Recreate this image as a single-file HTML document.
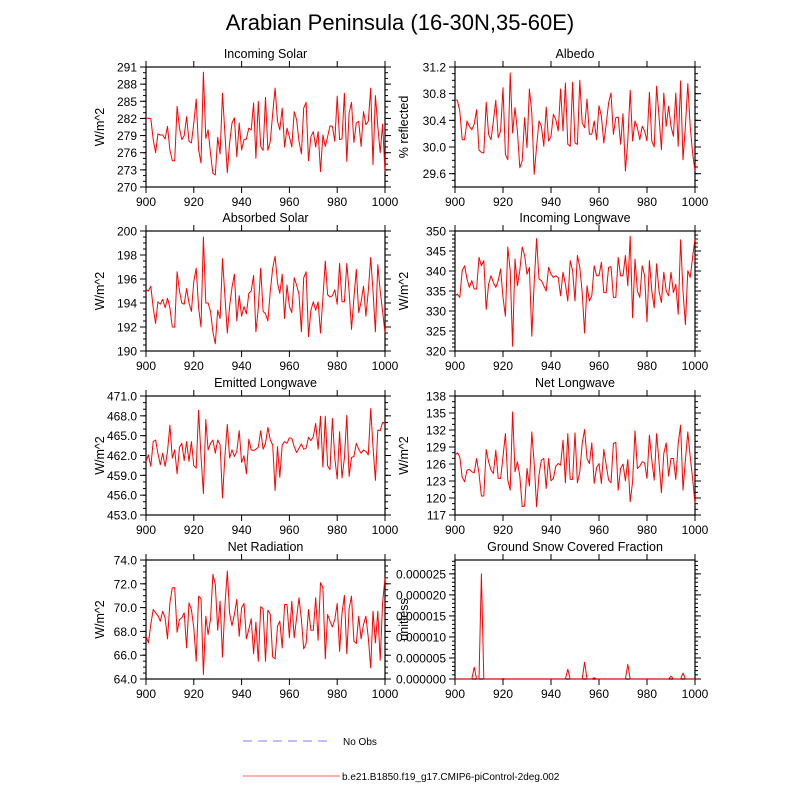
<!DOCTYPE html>
<html><head><meta charset="utf-8"><style>
body{margin:0;background:#fff}
svg{display:block;font-family:"Liberation Sans",sans-serif}
</style></head><body>
<svg id="chart" width="800" height="800" viewBox="0 0 800 800">
<text x="400" y="30" font-size="22" text-anchor="middle">Arabian Peninsula (16-30N,35-60E)</text>
<g>
<line x1="243" y1="741" x2="330" y2="741" stroke="#9999ff" stroke-width="1.2" stroke-dasharray="9,6"/>
<text x="343" y="745" font-size="10">No Obs</text>
<line x1="243" y1="776" x2="340" y2="776" stroke="#ff8080" stroke-width="1.2"/>
<text x="342" y="780" font-size="10">b.e21.B1850.f19_g17.CMIP6-piControl-2deg.002</text>
</g>
</svg>
<script>
const years0 = 900;
const incomingSolar = [282.1,282,282,278.3,276,279.3,279.1,279.1,278.4,280.6,276.5,274.6,274.6,284.1,280.3,278.3,279,282.3,278,277.7,281.2,285.4,276.5,274.2,290.1,278.5,280,275.9,272.4,272.1,278.7,275.8,286.4,279.4,272.5,277.7,281.2,282.1,275.3,281.2,276.5,278.3,278.4,280.3,280,284.7,275,285,277.1,276.4,285.7,276.4,278,282.9,287.3,281.5,280,283.8,277,280.3,278.8,277,283.2,281.8,278,275.8,283.8,284.8,274.6,278.8,279.7,277,279.7,272.7,279.1,277.1,278.8,280.7,280.6,278,285.9,278.3,278.4,286.4,274.5,282.9,284.8,277.8,281.2,281.5,277.1,283.2,280.9,281.5,287.3,273.9,286,280.6,276,281,272.7];
const albedo = [30.71,30.70,30.54,30.11,30.11,30.39,30.31,30.26,30.34,30.56,29.95,29.92,29.91,30.67,30.19,30.11,30.39,30.70,30.14,30.24,30.89,29.89,29.81,31.11,30.21,30.59,30.24,29.69,29.79,30.44,29.99,30.87,30.51,29.59,30.01,30.39,30.31,30.01,30.60,30.09,30.16,30.49,30.41,30.24,30.87,30.24,30.96,30.04,30.01,30.97,30.06,30.04,31.0,30.36,30.29,30.72,30.19,30.19,30.39,30.11,30.62,30.46,30.06,30.34,30.66,30.81,30.19,30.44,30.45,30.04,30.5,29.64,30.09,30.85,30.09,30.39,30.29,30.11,30.31,30.24,30.09,30.82,30.09,30.0,30.91,30.46,29.96,30.81,30.31,30.61,30.31,30.16,30.81,30.01,30.99,29.81,30.31,30.95,30.31,29.91,29.64];
const absorbedSolar = [195.1,195.0,195.4,193.6,192.3,194.1,193.9,194.3,193.6,194.4,193.6,192.0,192.0,196.6,195.0,194.0,193.9,195.2,194.0,193.3,195.8,196.9,193.6,192.0,199.5,194.0,194.0,193.3,191.6,190.6,193.4,192.7,197.7,194.6,191.5,193.7,195.3,196.4,192.5,194.6,192.9,193.7,193.1,194.8,195.0,196.3,191.6,193.6,196.9,193.3,193.1,192.5,195.0,196.9,197.9,195.7,194.8,196.4,192.7,195.5,193.7,193.2,196.1,195.5,194.7,191.6,196.1,196.6,191.2,193.4,194.1,193.4,194.1,191.5,194.4,197.5,194.7,194.5,194.6,195.1,193.9,197.3,194.1,194.1,197.3,195.0,191.8,194.4,196.8,193.2,194.1,195.4,192.9,195.0,197.8,195.0,191.6,197.2,195.0,193.3,191.5];
const incomingLW = [333.8,334.2,333.4,340.1,341.3,338,335.9,337.6,335.5,335.5,343.4,341.3,342.6,330.4,336.7,338.8,337.1,335.9,337.6,340.5,333.4,328.7,346,340.1,321.2,343,336.3,340.1,346,343.9,339.2,340.9,323.7,337.1,348.1,338,337.6,336.3,335,340.9,339.2,338.4,338.8,338.4,333.8,339.7,336.7,332.5,342.6,340.1,332.5,343.9,340.9,334.6,324.5,336.3,332.5,333.8,341.3,338.8,338.8,342.2,334.6,334.6,340.9,341.1,333.4,333.4,343.4,338.8,338.8,343.9,336.3,348.7,328.3,343,335,333.4,341.3,338.8,327.3,342.6,335,330.8,341.8,335,332.1,339.7,335,333.8,339.7,334.6,336.7,329.2,347.8,335,326.6,340.1,338.4,343.4,348.1];
const emittedLW = [461.1,462.1,460.35,464.1,464.35,462.35,460.6,462.35,460.35,462.6,466.6,461.6,462.85,459.25,463.25,463.85,461.25,464.1,461.1,464.1,460.45,460.1,468.85,461.85,456.25,467.45,462.85,463.85,464.35,462.35,464.35,463.6,455.6,461.85,466.7,461.6,462.85,461.85,462.6,465.75,460.95,461.95,459.25,464.45,462.85,462.75,462.95,463.25,465.75,462.95,463.85,466.25,464.35,463.6,456.7,463.35,458.7,463.6,464.1,463.85,464.7,464.6,463.35,462.45,463.1,463.75,462.95,463.1,464.75,464.25,464.85,466.85,462.95,467.95,460.25,467.95,460.45,459.85,467.6,461.6,458.45,465.6,458.6,461.6,468.1,458.85,461.7,461.85,463.85,462.95,462.35,462.85,462.6,462.1,469.1,463.35,458.25,465.85,465.75,467,466.9];
const netLW = [127.56,127.97,127.27,123.63,122.87,124.92,125.04,124.63,124.45,126.97,124.33,120.35,120.35,128.56,126.39,124.92,124.33,128.44,123.45,123.45,127.27,131.37,123.16,121.4,135.18,124.63,126.39,123.87,118.47,118.59,125.21,122.11,131.67,126.09,118.47,124.04,126.68,126.97,121.7,126.97,123.04,123.45,125.62,126.09,125.8,130.2,122.69,131.37,123.28,123.28,131.49,122.69,124.63,129.61,132.08,126.97,126.09,129.73,122.57,125.39,126.09,122.57,128.56,125.8,123.16,122.69,129.61,129.79,121.4,125.21,125.98,123.04,126.8,119.35,122.87,131.84,125.21,125.62,126.39,126.21,123.45,131.08,126.68,123.16,131.37,126.39,120.93,127.85,129.73,123.87,126.97,126.97,123.28,129.61,132.84,121.4,126.68,131.67,127.27,123.45,119.06];
const netRad = [67.6,67.03,68.58,69.84,69.56,69.34,68.86,69.7,69.14,67.37,70.4,71.67,71.67,67.93,69,69.14,69.56,66.61,70.4,69.84,68.3,65.49,70.97,70.74,64.37,69.28,67.74,69,72.79,71.95,68.1,70.54,65.85,70.12,73.07,69.51,68.49,69.42,70.69,67.6,69.98,70.35,67.37,68.16,69.06,66.13,68.78,65.49,70.07,69.9,65.49,69.79,69.42,65.85,65.69,68.44,68.86,66.61,70.26,70.26,67.46,70.54,67.46,69.14,70.83,69,66.53,66.98,69.84,68.1,68.1,70.83,67.26,72.09,71.67,65.69,69.42,68.86,68.38,69,70.35,66.33,69.51,71.02,66.13,69.9,70.97,67.17,66.98,69.28,67.37,68.58,69.28,67.46,64.93,69.7,67.03,69.7,65.57,70.4,72.51];
const snowYears = [908,911,920,947,954,958,972,990,995];
const snowValues = [0.0000028,0.000025,0.0000001,0.0000023,0.0000040,0.0000003,0.0000035,0.0000007,0.0000014];
const xTicks = [900,920,940,960,980,1000];
const ticks1 = [270,273,276,279,282,285,288,291];
const ticks2 = [29.6,30.0,30.4,30.8,31.2];
const ticks3 = [190,192,194,196,198,200];
const ticks4 = [320,325,330,335,340,345,350];
const ticks5 = [453,456,459,462,465,468,471];
const ticks6 = [117,120,123,126,129,132,135,138];
const ticks7 = [64,66,68,70,72,74];
const ticks8 = [0,0.000005,0.00001,0.000015,0.00002,0.000025];

const NS='http://www.w3.org/2000/svg';
const svg=document.getElementById('chart');
function mk(tag,attrs,parent){const e=document.createElementNS(NS,tag);for(const k in attrs)e.setAttribute(k,attrs[k]);(parent||svg).appendChild(e);return e;}

const panels=[
 {name:'incoming-solar',title:'Incoming Solar',yt:'W/m^2',x0:146,x1:385,y0:67,y1:187,ymin:270,ymax:291,ticks:ticks1,minor:1,dec:0,data:incomingSolar},
 {name:'albedo',title:'Albedo',yt:'% reflected',x0:455,x1:695,y0:67,y1:187,ymin:29.4,ymax:31.2,ticks:ticks2,minor:0.1,dec:1,data:albedo},
 {name:'absorbed-solar',title:'Absorbed Solar',yt:'W/m^2',x0:146,x1:385,y0:231,y1:351,ymin:190,ymax:200,ticks:ticks3,minor:0.5,dec:0,data:absorbedSolar},
 {name:'incoming-longwave',title:'Incoming Longwave',yt:'W/m^2',x0:455,x1:695,y0:231,y1:351,ymin:320,ymax:350,ticks:ticks4,minor:1,dec:0,data:incomingLW},
 {name:'emitted-longwave',title:'Emitted Longwave',yt:'W/m^2',x0:146,x1:385,y0:396,y1:515,ymin:453,ymax:471,ticks:ticks5,minor:1,dec:1,data:emittedLW},
 {name:'net-longwave',title:'Net Longwave',yt:'W/m^2',x0:455,x1:695,y0:396,y1:515,ymin:117,ymax:138,ticks:ticks6,minor:1,dec:0,data:netLW},
 {name:'net-radiation',title:'Net Radiation',yt:'W/m^2',x0:146,x1:385,y0:560,y1:679,ymin:64,ymax:74,ticks:ticks7,minor:0.5,dec:1,data:netRad},
 {name:'snow-fraction',title:'Ground Snow Covered Fraction',yt:'unitless',x0:455,x1:695,y0:560,y1:679,ymin:0,ymax:0.0000283,ticks:ticks8,minor:0.000001,dec:6,data:null}
];

panels.forEach(p=>{
 const g=mk('g',{});
 
 
 const xs=v=>p.x0+(v-900)/100*(p.x1-p.x0);
 const ys=v=>p.y1-(v-p.ymin)/(p.ymax-p.ymin)*(p.y1-p.y0);
 // minor y ticks
 const nMin=Math.round((p.ymax-p.ymin)/p.minor);
 for(let i=0;i<=nMin;i++){const v=p.ymin+i*p.minor;if(v>p.ymax+1e-12)break;const y=ys(v);
  mk('line',{x1:p.x0-3,x2:p.x0,y1:y,y2:y,stroke:'#000','stroke-width':1},g);
  mk('line',{x1:p.x1,x2:p.x1+3,y1:y,y2:y,stroke:'#000','stroke-width':1},g);}
 p.ticks.forEach(v=>{const y=ys(v);
  mk('line',{x1:p.x0-6,x2:p.x0,y1:y,y2:y,stroke:'#000','stroke-width':1},g);
  mk('line',{x1:p.x1,x2:p.x1+6,y1:y,y2:y,stroke:'#000','stroke-width':1},g);
  const t=mk('text',{x:p.x0-9,y:y+4.5,'font-size':12,'text-anchor':'end'},g);
  
  
  t.textContent=v.toFixed(p.dec);});
 xTicks.forEach(v=>{const x=xs(v);
  mk('line',{x1:x,x2:x,y1:p.y1,y2:p.y1+6,stroke:'#000','stroke-width':1},g);
  mk('line',{x1:x,x2:x,y1:p.y0-6,y2:p.y0,stroke:'#000','stroke-width':1},g);
  const t=mk('text',{x:x,y:p.y1+19,'font-size':12,'text-anchor':'middle'},g);
  
  
  t.textContent=v;});
 const fr=mk('rect',{x:p.x0,y:p.y0,width:p.x1-p.x0,height:p.y1-p.y0,fill:'none',stroke:'#000','stroke-width':1.2},g);
 
 
 const tt=mk('text',{x:(p.x0+p.x1)/2,y:p.y0-9,'font-size':12.5,'text-anchor':'middle'},g);
 
 
 tt.textContent=p.title;
 const ax=p.x0<300?104:408;
 const yt=mk('text',{x:ax,y:(p.y0+p.y1)/2,'font-size':12.5,'text-anchor':'middle',transform:`rotate(-90 ${ax} ${(p.y0+p.y1)/2})`},g);
 
 
 yt.textContent=p.yt;
 let pts=[];
 if(p.data){pts=p.data.map((v,i)=>[xs(years0+i),ys(v)]);}
 else{for(let yr=900;yr<=1000;yr++){const k=snowYears.indexOf(yr);pts.push([xs(yr),ys(k>=0?snowValues[k]:0)]);}}
 const ln=mk('polyline',{points:pts.map(q=>q[0].toFixed(1)+','+q[1].toFixed(1)).join(' '),fill:'none',stroke:'#ff0000','stroke-width':1,'stroke-linejoin':'round'},g);
 
 
});
</script>
</body></html>
